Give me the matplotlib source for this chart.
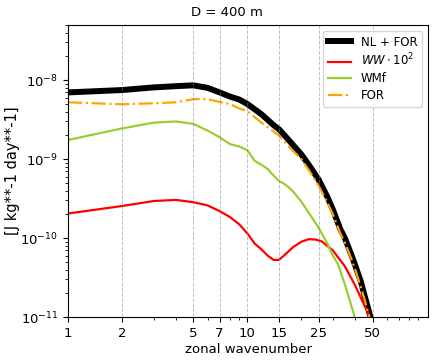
import numpy as np
import matplotlib
matplotlib.use('Agg')
import matplotlib.pyplot as plt
from matplotlib.ticker import FixedLocator, NullFormatter

# zonal wavenumbers and spectra
k_nl = [1, 2, 3, 4, 5, 6, 7, 8, 9, 10, 12, 14, 15, 17, 20, 22, 25, 28, 30, 33, 35, 38, 40, 43,
        45, 50]
nl_for = [7.0e-9, 7.5e-9, 8.1e-9, 8.4e-9, 8.6e-9, 8.0e-9, 7.0e-9, 6.2e-9, 5.7e-9, 5.0e-9,
          3.7e-9, 2.7e-9, 2.4e-9, 1.75e-9, 1.15e-9, 8.5e-10, 5.5e-10, 3.3e-10, 2.3e-10, 1.3e-10,
          1.0e-10, 6.2e-11, 4.5e-11, 2.8e-11, 1.9e-11, 8e-12]

k_ww = [1, 2, 3, 4, 5, 6, 7, 8, 9, 10, 11, 12, 13, 14, 15, 16, 18, 20, 22, 24, 26, 30, 35, 40,
        45, 50]
ww = [2.05e-10, 2.55e-10, 2.95e-10, 3.05e-10, 2.85e-10, 2.6e-10, 2.2e-10, 1.85e-10, 1.5e-10,
      1.15e-10, 8.5e-11, 7.2e-11, 6.0e-11, 5.3e-11, 5.3e-11, 6.0e-11, 7.7e-11, 9.0e-11, 9.7e-11,
      9.6e-11, 9.1e-11, 7.0e-11, 4.4e-11, 2.5e-11, 1.4e-11, 8.5e-12]

k_wmf = [1, 2, 3, 4, 5, 6, 7, 8, 9, 10, 11, 12, 13, 14, 15, 16, 17, 18, 20, 22, 25, 28, 30, 32,
         35, 38, 40]
wmf = [1.75e-9, 2.45e-9, 2.9e-9, 3.0e-9, 2.8e-9, 2.3e-9, 1.9e-9, 1.55e-9, 1.45e-9, 1.3e-9,
       9.5e-10, 8.5e-10, 7.5e-10, 6.2e-10, 5.3e-10, 4.9e-10, 4.4e-10, 3.9e-10, 2.9e-10, 2.1e-10,
       1.35e-10, 8.5e-11, 6.0e-11, 4.7e-11, 2.6e-11, 1.4e-11, 9.5e-12]

k_for = [1, 2, 3, 4, 5, 6, 7, 8, 9, 10, 11, 12, 15, 17, 20, 22, 25, 28, 30, 33, 35, 38, 40, 45,
         50]
forcing = [5.25e-9, 4.95e-9, 5.1e-9, 5.25e-9, 5.75e-9, 5.75e-9, 5.3e-9, 5.0e-9, 4.4e-9, 4.05e-9,
           3.4e-9, 2.9e-9, 2.0e-9, 1.45e-9, 1.0e-9, 7.3e-10, 4.6e-10, 2.8e-10, 2.0e-10,
           1.15e-10, 8.8e-11, 5.5e-11, 4.0e-11, 1.7e-11, 7e-12]

xticks = [1, 2, 5, 7, 10, 15, 25, 50]

fig = plt.figure(figsize=(4.36, 3.62), dpi=100)
ax = fig.add_axes([0.156, 0.124, 0.826, 0.807])

ax.loglog(k_nl, nl_for, color='black', lw=4.3, label='NL + FOR')
ax.loglog(k_ww, ww, color='red', lw=1.6, label=r'$WW \cdot 10^2$')
ax.loglog(k_wmf, wmf, color='yellowgreen', lw=1.6, label='WMf')
ax.loglog(k_for, forcing, color='orange', lw=1.6, ls='-.', label='FOR')

ax.set_xlim(1, 102)
ax.set_ylim(1e-11, 5e-8)
ax.xaxis.set_major_locator(FixedLocator(xticks))
ax.set_xticklabels([str(t) for t in xticks])
ax.xaxis.set_minor_formatter(NullFormatter())
for t in xticks[1:]:
    ax.axvline(t, color='gray', ls='--', lw=0.7, alpha=0.5)

ax.tick_params(labelsize=9.5)
ax.set_xlabel('zonal wavenumber', fontsize=9.5, labelpad=2)
ax.set_ylabel('[J kg**-1 day**-1]', fontsize=10.5)
ax.yaxis.set_label_coords(-0.133, 0.5)
fig.text(0.52, 0.955, 'D = 400 m', ha='center', fontsize=9.5)
ax.legend(loc='upper right', fontsize=8.5, labelspacing=0.3)

fig.savefig('out.png', dpi=100)
